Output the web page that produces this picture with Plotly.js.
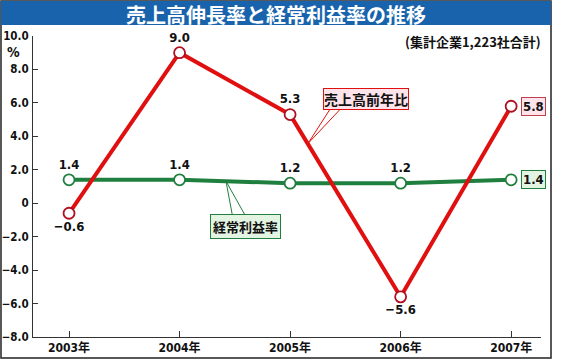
<!DOCTYPE html>
<html>
<head>
<meta charset="utf-8">
<script src="https://cdn.plot.ly/plotly-3.0.1.min.js"></script>
<style>html,body{margin:0;padding:0;background:#fff;}#chart{width:567px;height:360px;}</style>
</head>
<body>
<div id="chart"></div>
<script>
// ---- data ----
var years = ["2003年", "2004年", "2005年", "2006年", "2007年"];
var salesGrowth = [-0.6, 9.0, 5.3, -5.6, 5.8];     // 売上高前年比
var profitRatio = [1.4, 1.4, 1.2, 1.2, 1.4];       // 経常利益率
var salesLabelPos = ["bottom center", "top center", "top center", "bottom center", "middle right"];
var profitLabelPos = ["top center", "top center", "top center", "top center", "middle right"];
var yTickVals = [-8, -6, -4, -2, 0, 2, 4, 6, 8, 10];
var yTickText = ["\u22128.0", "\u22126.0", "\u22124.0", "\u22122.0", "0", "2.0", "4.0", "6.0", "8.0", "10.0"];
var titleText = "売上高伸長率と経常利益率の推移";
var noteText = "(集計企業1,223社合計)";
var salesName = "売上高前年比";
var profitName = "経常利益率";

var NUM = "'Liberation Sans Narrow', 'DejaVu Sans Condensed', 'Noto Sans CJK JP', sans-serif";
var JP = "'Noto Sans CJK JP', sans-serif";
var RED = "#e01010", GREEN = "#1f7f3f";

function fmt(v){ return (v < 0 ? "\u2212" : "") + Math.abs(v).toFixed(1); }
var xi = years.map(function(_, i){ return i; });
var last = years.length - 1;

function labels(vals){
  return vals.map(function(v, i){ return i === last ? "" : fmt(v); });
}

var traces = [
  {
    x: xi, y: profitRatio, type: "scatter", mode: "lines+markers+text",
    line: {color: GREEN, width: 4},
    marker: {size: 11, color: "#ffffff", line: {color: GREEN, width: 1.8}},
    text: labels(profitRatio), textposition: profitLabelPos,
    textfont: {family: NUM, size: 13, color: "#111", weight: "bold"},
    cliponaxis: false, hoverinfo: "skip"
  },
  {
    x: xi, y: salesGrowth, type: "scatter", mode: "lines+markers+text",
    line: {color: RED, width: 4},
    marker: {size: 11, color: "#ffffff", line: {color: "#b01020", width: 1.8}},
    text: labels(salesGrowth), textposition: salesLabelPos,
    textfont: {family: NUM, size: 13, color: "#111", weight: "bold"},
    cliponaxis: false, hoverinfo: "skip"
  }
];

// point on a series between two categories (for callout tails)
function onLine(vals, xv){
  var i = Math.floor(xv), f = xv - i;
  return vals[i] + f * (vals[i + 1] - vals[i]);
}
var sTipX = 2.16, pTipX = 1.42;

var layout = {
  width: 567, height: 360,
  margin: {l: 33, r: 26, t: 36, b: 23},
  paper_bgcolor: "#ffffff", plot_bgcolor: "#ffffff",
  showlegend: false,
  xaxis: {
    range: [-0.326, 4.27], tickvals: xi, ticktext: years,
    showgrid: false, zeroline: false, showline: true, linecolor: "#333", linewidth: 1,
    ticks: "inside", ticklen: 6, tickcolor: "#333",
    tickfont: {family: NUM, size: 12, color: "#111", weight: "bold"}
  },
  yaxis: {
    range: [-8, 10], tickvals: yTickVals, ticktext: yTickText,
    showgrid: false, zeroline: false, showline: true, linecolor: "#333", linewidth: 1,
    ticks: "inside", ticklen: 5, tickcolor: "#333", ticklabelstandoff: 1,
    tickfont: {family: NUM, size: 11.5, color: "#111", weight: "bold"}
  },
  shapes: [
    // outer frame
    {type: "rect", xref: "paper", yref: "paper", x0: -0.063, x1: 1.0197, y0: -0.0698, y1: 1.116,
     line: {color: "#222", width: 1.5}, fillcolor: "rgba(0,0,0,0)", layer: "below"},
    // title bar
    {type: "rect", xref: "paper", yref: "paper", x0: -0.063, x1: 1.0197, y0: 1.0365, y1: 1.116,
     line: {width: 0}, fillcolor: "#1963ad", layer: "below"},
    // sales callout tail
    {type: "path", xref: "x", yref: "y",
     path: "M 2.40 6.02 L " + sTipX + " " + onLine(salesGrowth, sTipX).toFixed(3) + " L 2.51 6.02",
     line: {color: RED, width: 1}, fillcolor: "rgba(0,0,0,0)"},
    // profit callout tail
    {type: "path", xref: "x", yref: "y",
     path: "M 1.48 -0.80 L " + pTipX + " " + onLine(profitRatio, pTipX).toFixed(3) + " L 1.60 -0.80",
     line: {color: GREEN, width: 1}, fillcolor: "rgba(0,0,0,0)"}
  ],
  annotations: [
    {xref: "paper", yref: "paper", x: 0.478, y: 1.073, text: "<b>" + titleText + "</b>", showarrow: false,
     font: {family: JP, size: 20, color: "#ffffff"}, xanchor: "center", yanchor: "middle"},
    {xref: "paper", yref: "paper", x: 1.003, y: 0.982, text: "<b>" + noteText + "</b>", showarrow: false,
     font: {family: JP, size: 13, color: "#111"}, xanchor: "right", yanchor: "middle"},
    {xref: "paper", yref: "paper", x: -0.022, y: 0.948, text: "<b>%</b>", showarrow: false,
     font: {family: NUM, size: 14, color: "#111"}, xanchor: "right", yanchor: "middle"},
    // series callouts
    {xref: "x", yref: "y", x: 2.69, y: 6.26, text: "<b>" + salesName + "</b>", showarrow: false,
     font: {family: JP, size: 14, color: "#111"}, bgcolor: "#fde3ea", bordercolor: RED, borderwidth: 1,
     borderpad: 0, xanchor: "center", yanchor: "middle"},
    {xref: "x", yref: "y", x: 1.60, y: -1.40, text: "<b>" + profitName + "</b>", showarrow: false,
     font: {family: JP, size: 13, color: "#111"}, bgcolor: "#e3f4e3", bordercolor: GREEN, borderwidth: 1,
     borderpad: 2, xanchor: "center", yanchor: "middle"},
    // end value boxes
    {xref: "x", yref: "y", x: last, y: salesGrowth[last], xshift: 10, text: "<b>" + fmt(salesGrowth[last]) + "</b>",
     showarrow: false, font: {family: NUM, size: 13, color: "#111"}, bgcolor: "#fde3ea", bordercolor: "#c04050",
     borderwidth: 1, borderpad: 1, xanchor: "left", yanchor: "middle"},
    {xref: "x", yref: "y", x: last, y: profitRatio[last], xshift: 10, text: "<b>" + fmt(profitRatio[last]) + "</b>",
     showarrow: false, font: {family: NUM, size: 13, color: "#111"}, bgcolor: "#e3f4e3", bordercolor: GREEN,
     borderwidth: 1, borderpad: 1, xanchor: "left", yanchor: "middle"}
  ]
};

Plotly.newPlot("chart", traces, layout, {displayModeBar: false, staticPlot: true});
</script>
</body>
</html>
